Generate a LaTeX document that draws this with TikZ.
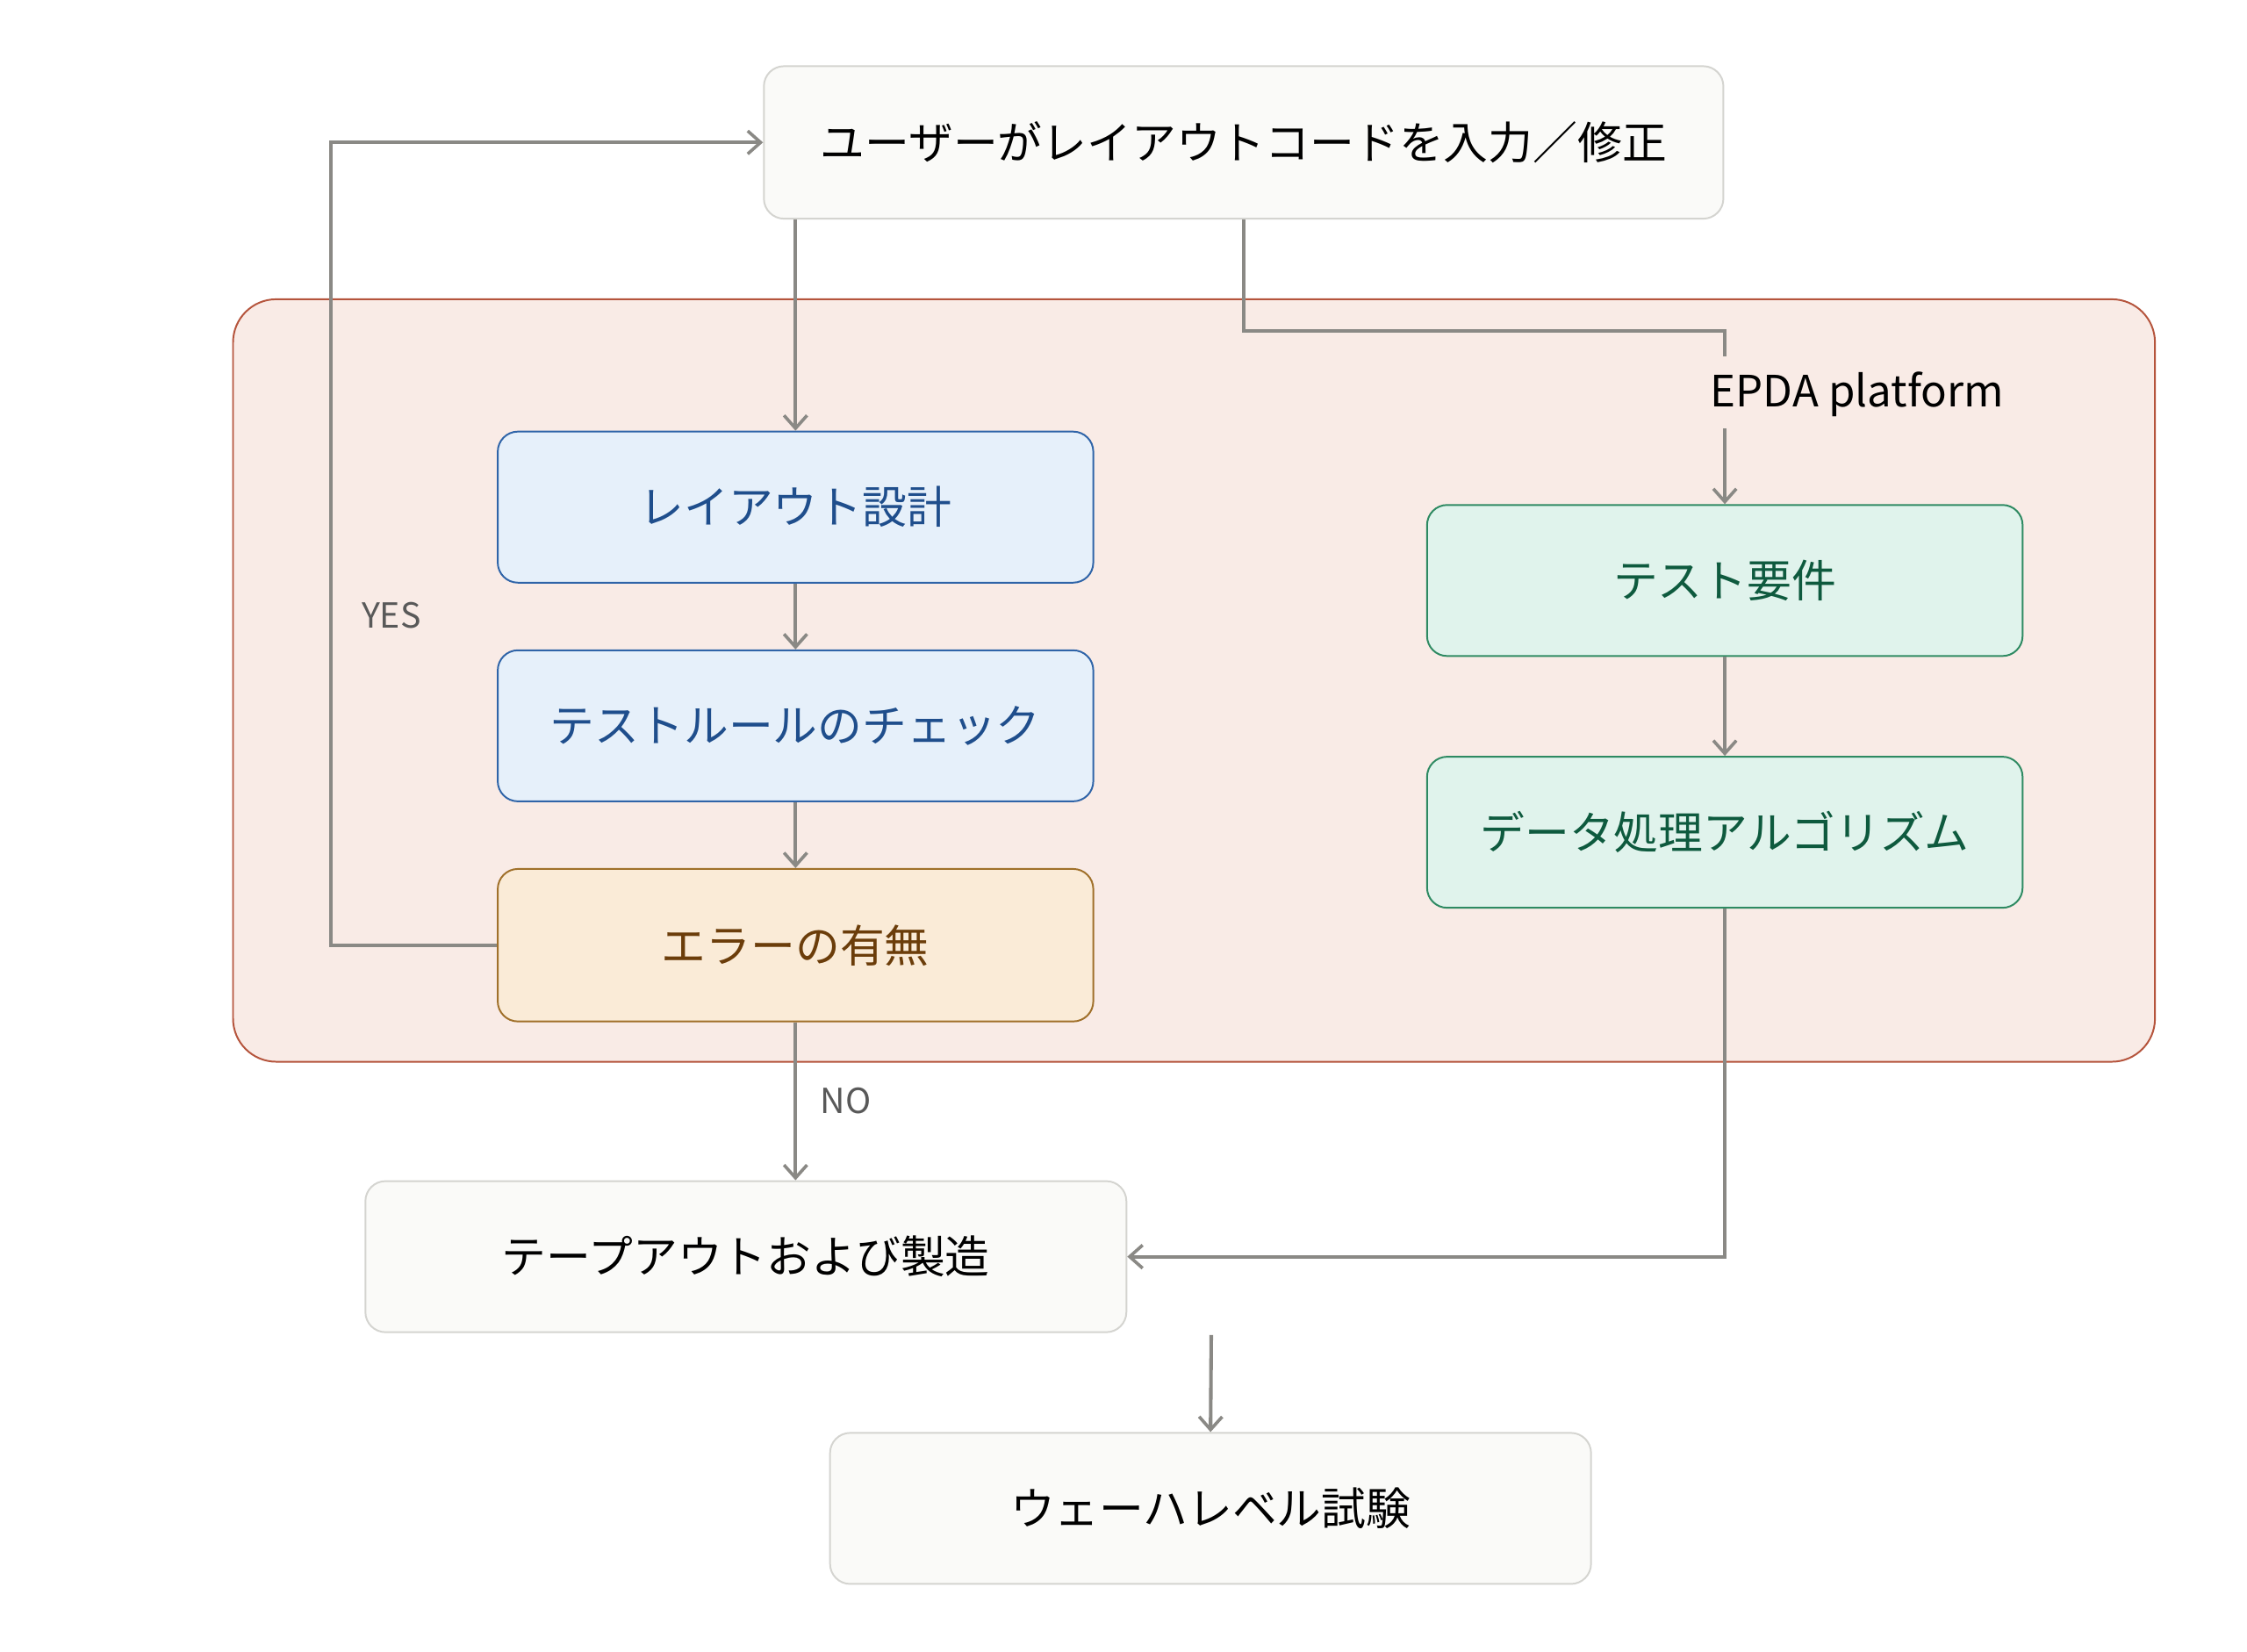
\documentclass[tikz,border=0pt]{standalone}
\usepackage{fontspec}
\setmainfont{Noto Sans CJK JP}
\usetikzlibrary{arrows.meta}
\definecolor{arr}{HTML}{8A8985}
\definecolor{pinkf}{HTML}{F9EBE6}\definecolor{pinkd}{HTML}{B5543C}
\definecolor{bluef}{HTML}{E6F0FA}\definecolor{blued}{HTML}{2F64A8}\definecolor{bluet}{HTML}{1F4E8C}
\definecolor{orgf}{HTML}{FAEBD7}\definecolor{orgd}{HTML}{A0702A}\definecolor{orgt}{HTML}{6B3D0A}
\definecolor{grnf}{HTML}{E0F3EC}\definecolor{grnd}{HTML}{2E8A62}\definecolor{grnt}{HTML}{0E5A3E}
\definecolor{grayf}{HTML}{FAFAF8}\definecolor{grayd}{HTML}{D4D4D0}
\begin{document}
\begin{tikzpicture}[x=1pt,y=-1pt,
  box/.style={draw, rounded corners=14pt, line width=1.2pt, font=\fontsize{31}{36}\selectfont, inner sep=0pt},
  wbox/.style={box, fill=grayf, draw=grayd, text=black},
  bbox/.style={box, fill=bluef, draw=blued, text=bluet},
  obox/.style={box, fill=orgf, draw=orgd, text=orgt},
  gbox/.style={box, fill=grnf, draw=grnd, text=grnt},
  conn/.style={draw=arr, line width=2.5pt, -{Straight Barb[length=9pt,width=16pt,line width=2.2pt]}},
  lbl/.style={font=\fontsize{24}{28}\selectfont, text=black!65}]
\useasboundingbox (0,0) rectangle (1562,1148);
\fill[white] (0,0) rectangle (1562,1148);
\draw[fill=pinkf, draw=pinkd, line width=1.2pt, rounded corners=30pt] (162,208) rectangle (1498,738);
\node[wbox, minimum width=667pt, minimum height=106pt] (top) at (864.5,99) {ユーザーがレイアウトコードを入力／修正};
\node[bbox, minimum width=414pt, minimum height=105pt] (lay) at (553,352.5) {レイアウト設計};
\node[bbox, minimum width=414pt, minimum height=105pt] (rule) at (553,504.5) {テストルールのチェック};
\node[obox, minimum width=414pt, minimum height=106pt] (err) at (553,657) {エラーの有無};
\node[gbox, minimum width=414pt, minimum height=105pt] (req) at (1199,403.5) {テスト要件};
\node[gbox, minimum width=414pt, minimum height=105pt] (alg) at (1199,578.5) {データ処理アルゴリズム};
\node[wbox, minimum width=529pt, minimum height=105pt] (tape) at (518.5,873.5) {テープアウトおよび製造};
\node[wbox, minimum width=529pt, minimum height=105pt] (wafer) at (841.5,1048.5) {ウェーハレベル試験};
\node[font=\fontsize{30}{34}\selectfont, fill=pinkf, inner sep=3pt] (epda) at (1291,274) {EPDA platform};
\draw[conn] (top.south -| lay.north) -- (lay.north);
\draw[conn] (lay) -- (rule);
\draw[conn] (rule) -- (err);
\draw[draw=arr, line width=2.5pt] (top.south) -- (864.5,230) -- (1199,230) -- (1199,248);
\draw[conn] (1199,298) -- (req.north);
\draw[conn] (req) -- (alg);
\draw[conn] (err.west) -- (230,657) -- (230,99) -- (top.west);
\node[lbl] at (272,428) {YES};
\draw[conn] (err.south) -- (tape.north -| err.south);
\node[lbl] at (588,765) {NO};
\draw[conn] (alg.south) -- (1199,873.5) -- (tape.east);
\coordinate (tw) at (842,928);
\draw[conn] (tw) -- (wafer.north);
\end{tikzpicture}
\end{document}
